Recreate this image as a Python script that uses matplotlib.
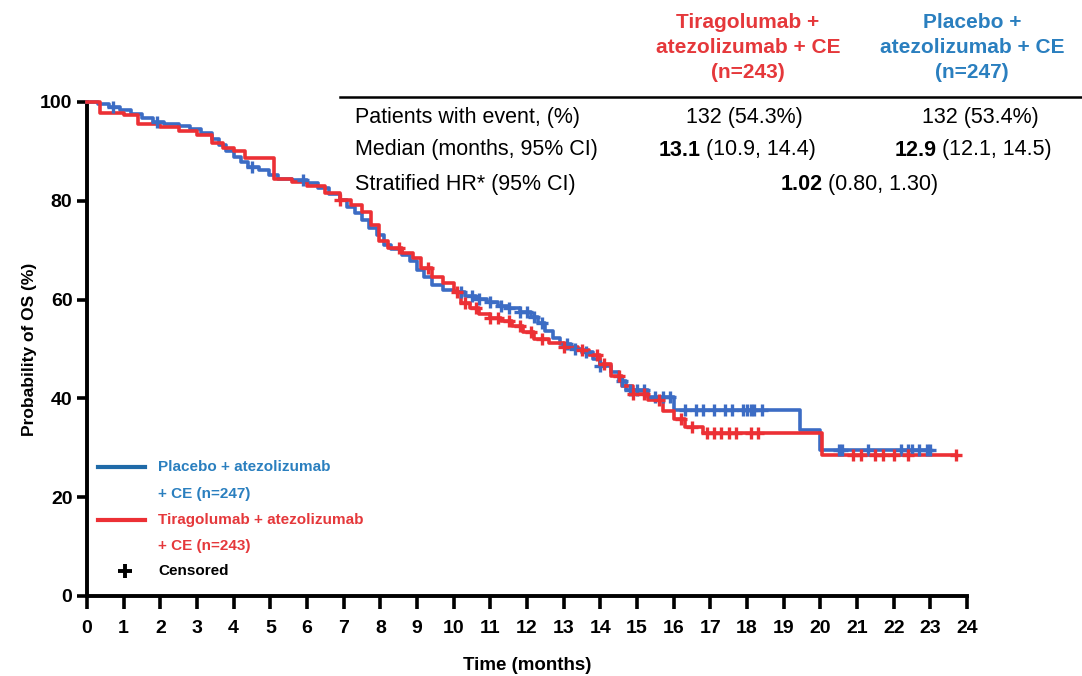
import numpy as np
import matplotlib
matplotlib.use('Agg')
import matplotlib.pyplot as plt

plt.rcParams['font.family'] = ['Liberation Sans', 'DejaVu Sans']

# Kaplan-Meier step knots (time in months, survival %)
pbo_t = [0, 0.3, 0.6, 0.9, 1.2, 1.5, 1.8, 2.1, 2.5, 2.8, 3.1, 3.4, 3.6, 3.8, 4.0,
         4.2, 4.4, 4.7, 4.95, 5.2, 5.6, 6.0, 6.3, 6.6, 6.9, 7.1, 7.3, 7.5, 7.7,
         7.9, 8.1, 8.3, 8.6, 8.8, 9.0, 9.2, 9.4, 9.7, 10.0, 10.3, 10.6, 10.9,
         11.2, 11.5, 11.8, 12.1, 12.3, 12.5, 12.7, 12.9, 13.2, 13.5, 13.8, 14.0,
         14.3, 14.5, 14.7, 15.3, 16.0, 19.45, 20.0]
pbo_s = [100, 99.6, 99.0, 98.4, 97.6, 96.8, 96.0, 95.5, 95.1, 94.6, 93.8, 92.5,
         91.2, 90.0, 88.8, 87.8, 86.8, 86.2, 85.2, 84.4, 84.2, 83.6, 82.6, 81.4,
         80.2, 78.8, 77.6, 76.2, 74.5, 73.0, 71.0, 70.2, 69.0, 67.8, 66.0, 64.6,
         63.0, 62.0, 61.5, 60.8, 60.2, 59.6, 58.8, 58.3, 57.5, 56.5, 55.2, 53.6,
         52.2, 51.0, 50.0, 49.3, 48.0, 46.5, 45.3, 43.5, 41.6, 40.2, 37.6, 33.6,
         29.5]
pbo_end = 23.0
pbo_cens = [0.7, 1.9, 4.5, 5.9, 10.2, 10.5, 10.7, 11.0, 11.3, 11.5, 11.8, 12.0,
            12.2, 12.4, 13.1, 13.3, 13.6, 14.0, 14.6, 14.8, 15.0, 15.2, 15.5,
            15.7, 15.9, 16.3, 16.6, 16.8, 17.1, 17.4, 17.6, 17.9, 18.0, 18.1,
            18.2, 18.4, 20.5, 20.6, 21.3, 22.2, 22.4, 22.5, 22.7, 22.9, 23.0]

tira_t = [0, 0.35, 1.0, 1.4, 2.0, 2.5, 3.0, 3.4, 3.7, 4.0, 4.3, 5.1, 5.6, 6.0,
          6.5, 6.9, 7.2, 7.5, 7.75, 7.95, 8.2, 8.6, 8.9, 9.1, 9.4, 9.7, 10.0,
          10.2, 10.45, 10.7, 11.0, 11.3, 11.6, 11.9, 12.2, 12.6, 13.0, 13.4,
          13.7, 14.0, 14.3, 14.6, 14.9, 15.3, 15.7, 16.0, 16.3, 16.8, 20.05]
tira_s = [100, 97.8, 97.4, 95.6, 95.0, 94.2, 93.4, 91.8, 90.6, 90.0, 88.6, 84.5,
          83.8, 83.0, 81.6, 80.2, 79.2, 77.8, 75.2, 71.8, 70.4, 69.4, 68.4, 66.4,
          64.6, 63.4, 61.6, 59.4, 58.2, 57.0, 56.2, 55.6, 54.6, 53.4, 52.0, 51.2,
          50.4, 49.8, 48.8, 47.0, 44.6, 42.6, 40.8, 39.6, 37.5, 35.8, 34.2, 32.9,
          28.5]
tira_end = 23.7
tira_cens = [6.9, 8.5, 9.3, 10.1, 10.3, 10.6, 11.0, 11.2, 11.5, 11.8, 12.1, 12.4,
             13.0, 13.5, 13.9, 14.1, 14.5, 14.9, 15.2, 15.6, 16.2, 16.5, 16.9,
             17.1, 17.3, 17.5, 17.7, 18.1, 18.3, 20.9, 21.1, 21.5, 21.7, 22.0,
             22.4, 23.7]

x_ticks = list(range(0, 25))
y_ticks = [0, 20, 40, 60, 80, 100]

RED = '#ec3035'
BLUE = '#3c6cc4'
RED_TXT = '#e5383b'
BLUE_TXT = '#2a7fbf'
LEG_BLUE = '#1f6aa8'

W, H = 1082, 676


def fx(px):
    return px / W


def fy(py):
    return 1 - py / H


def surv_at(t, s, times):
    t = np.asarray(t)
    s = np.asarray(s)
    idx = np.searchsorted(t, times, side='right') - 1
    return s[idx]


fig = plt.figure(figsize=(W / 100, H / 100), dpi=100)
ax = fig.add_axes([fx(87), fy(596), fx(967) - fx(87), fy(102) - fy(596)])

for t, s, end, cens, col in [(pbo_t, pbo_s, pbo_end, pbo_cens, BLUE),
                             (tira_t, tira_s, tira_end, tira_cens, RED)]:
    tt = list(t) + [end]
    ss = list(s) + [s[-1]]
    ax.step(tt, ss, where='post', color=col, lw=2.6, clip_on=False, zorder=3)
    ax.plot(cens, surv_at(t, s, cens), ls='none', marker='+', ms=9, mew=2.4,
            color=col, clip_on=False, zorder=4)

ax.set_xlim(0, 24)
ax.set_ylim(0, 100)
ax.set_xticks(x_ticks)
ax.set_yticks(y_ticks)
for sp in ['top', 'right']:
    ax.spines[sp].set_visible(False)
for sp in ['left', 'bottom']:
    ax.spines[sp].set_linewidth(2.8)
ax.tick_params(width=2.6, labelsize=14)
ax.tick_params(axis='x', length=9, pad=8)
ax.tick_params(axis='y', length=7, pad=3.5)
for lab in ax.get_xticklabels() + ax.get_yticklabels():
    lab.set_fontweight('bold')
ax.set_xlabel('Time (months)', fontsize=13.5, fontweight='bold')
ax.set_ylabel('Probability of OS (%)', fontsize=12.5, fontweight='bold')
ax.xaxis.set_label_coords(0.5, (596 - 665) / 494)
ax.xaxis.label.set_va('center')
ax.yaxis.set_label_coords((30 - 87) / 880, 0.5)
ax.yaxis.label.set_va('center')

# legend drawn by hand to match the stacked layout
fig.add_artist(plt.Line2D([fx(98), fx(145)], [fy(467), fy(467)], color=LEG_BLUE, lw=3))
fig.add_artist(plt.Line2D([fx(98), fx(145)], [fy(520), fy(520)], color=RED, lw=3))
fig.add_artist(plt.Line2D([fx(125)], [fy(571)], marker='+', ms=10, mew=2.8, color='black'))
leg_kw = dict(fontsize=11, fontweight='bold', va='center', ha='left')
fig.text(fx(158), fy(467), 'Placebo + atezolizumab', color=BLUE_TXT, **leg_kw)
fig.text(fx(158), fy(494), '+ CE (n=247)', color=BLUE_TXT, **leg_kw)
fig.text(fx(158), fy(520), 'Tiragolumab + atezolizumab', color=RED_TXT, **leg_kw)
fig.text(fx(158), fy(546), '+ CE (n=243)', color=RED_TXT, **leg_kw)
fig.text(fx(158), fy(571), 'Censored', color='black', **leg_kw)

# summary table
hdr_kw = dict(fontsize=15, fontweight='bold', ha='center', va='center')
for i, line in enumerate(['Tiragolumab +', 'atezolizumab + CE', '(n=243)']):
    fig.text(fx(748), fy(22 + 25.5 * i), line, color=RED_TXT, **hdr_kw)
for i, line in enumerate(['Placebo +', 'atezolizumab + CE', '(n=247)']):
    fig.text(fx(972), fy(22 + 25.5 * i), line, color=BLUE_TXT, **hdr_kw)
fig.add_artist(plt.Line2D([fx(340), 1.0], [fy(97), fy(97)], color='black', lw=1.8))

row_kw = dict(fontsize=15.5, va='center')
fig.text(fx(355), fy(117), 'Patients with event, (%)', ha='left', **row_kw)
fig.text(fx(355), fy(150), 'Median (months, 95% CI)', ha='left', **row_kw)
fig.text(fx(355), fy(184), 'Stratified HR* (95% CI)', ha='left', **row_kw)
fig.text(fx(744), fy(117), '132 (54.3%)', ha='center', **row_kw)
fig.text(fx(980), fy(117), '132 (53.4%)', ha='center', **row_kw)
fig.text(fx(701), fy(150), '13.1', ha='right', fontweight='bold', **row_kw)
fig.text(fx(706), fy(150), '(10.9, 14.4)', ha='left', **row_kw)
fig.text(fx(937), fy(150), '12.9', ha='right', fontweight='bold', **row_kw)
fig.text(fx(942), fy(150), '(12.1, 14.5)', ha='left', **row_kw)
fig.text(fx(823), fy(184), '1.02', ha='right', fontweight='bold', **row_kw)
fig.text(fx(828), fy(184), '(0.80, 1.30)', ha='left', **row_kw)

fig.savefig('out.png', dpi=100, facecolor='white')
